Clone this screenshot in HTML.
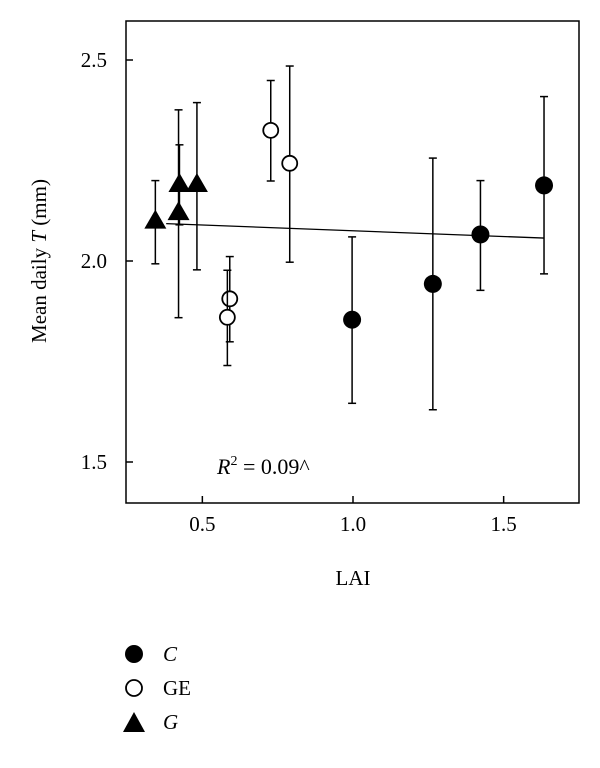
<!DOCTYPE html>
<html><head><meta charset="utf-8"><style>
body{margin:0;background:#fff;width:600px;height:763px;overflow:hidden}
svg{font-family:"Liberation Serif",serif}
</style></head><body>
<svg width="600" height="763" id="chart">
<rect x="126" y="21" width="453" height="482" fill="none" stroke="#000" stroke-width="1.5"/>
<g id="axes"></g>
<g id="marks"></g>
<text x="217" y="474" font-size="22"><tspan font-style="italic">R</tspan><tspan font-size="14" dy="-9">2</tspan><tspan dy="9"> = 0.09^</tspan></text>
<text x="353" y="585" font-size="21" text-anchor="middle">LAI</text>
<text transform="translate(46,261) rotate(-90)" font-size="21" text-anchor="middle">Mean daily <tspan font-style="italic">T</tspan> (mm)</text>
<g>
<circle cx="134" cy="654" r="9" fill="#000"/>
<text x="163" y="661" font-size="21" font-style="italic">C</text>
<circle cx="134" cy="688" r="8" fill="none" stroke="#000" stroke-width="1.8"/>
<text x="163" y="695" font-size="21">GE</text>
<polygon points="134,712 145,732 123,732" fill="#000"/>
<text x="163" y="729" font-size="21" font-style="italic">G</text>
</g>
</svg>
<script>
const xTicks=[0.5,1.0,1.5];
const yTicks=[1.5,2.0,2.5];
const tickLabels=["0.5","1.0","1.5"];
const yTickLabels=["1.5","2.0","2.5"];
const gX=[0.344,0.421,0.424,0.482];
const gY=[2.098,2.119,2.189,2.189];
const gHi=[2.2,2.376,2.289,2.394];
const gLo=[1.993,1.859,2.09,1.978];
const geX=[0.727,0.79,0.591,0.583];
const geY=[2.325,2.243,1.906,1.86];
const geHi=[2.449,2.485,2.011,1.977];
const geLo=[2.199,1.997,1.799,1.74];
const cX=[0.997,1.265,1.423,1.634];
const cY=[1.854,1.943,2.066,2.188];
const cHi=[2.06,2.256,2.2,2.409];
const cLo=[1.646,1.63,1.927,1.968];
const fitX=[0.38,1.634];
const fitY=[2.093,2.057];
const NS="http://www.w3.org/2000/svg";
const sx=v=>353+(v-1.0)*301.3;
const sy=v=>261-(v-2.0)*402;
function mk(tag,attrs,parent){const e=document.createElementNS(NS,tag);for(const k in attrs)e.setAttribute(k,attrs[k]);parent.appendChild(e);return e;}
const axes=document.getElementById('axes'),marks=document.getElementById('marks');
xTicks.forEach((t,i)=>{
 const l=mk('line',{x1:sx(t),x2:sx(t),y1:503,y2:496,stroke:'#000','stroke-width':1.5},axes);
 
 
 const tx=mk('text',{x:sx(t),y:531,'font-size':21,'text-anchor':'middle'},axes);tx.textContent=tickLabels[i];
 
 
});
yTicks.forEach((t,i)=>{
 const l=mk('line',{x1:126,x2:133,y1:sy(t),y2:sy(t),stroke:'#000','stroke-width':1.5},axes);
 
 
 const tx=mk('text',{x:107,y:sy(t)+7,'font-size':21,'text-anchor':'end'},axes);tx.textContent=yTickLabels[i];
 
 
});
const fit=mk('line',{x1:sx(fitX[0]),y1:sy(fitY[0]),x2:sx(fitX[1]),y2:sy(fitY[1]),stroke:'#000','stroke-width':1.3},marks);


function err(x,hi,lo){
 const g=mk('g',{stroke:'#000','stroke-width':1.5},marks);
 
 
 mk('line',{x1:sx(x),x2:sx(x),y1:sy(hi),y2:sy(lo)},g);
 mk('line',{x1:sx(x)-4,x2:sx(x)+4,y1:sy(hi),y2:sy(hi)},g);
 mk('line',{x1:sx(x)-4,x2:sx(x)+4,y1:sy(lo),y2:sy(lo)},g);
}
gX.forEach((x,i)=>{err(x,gHi[i],gLo[i]);
 const X=sx(x),Y=sy(gY[i]);
 const p=mk('polygon',{points:`${X},${Y-12} ${X+11},${Y+7} ${X-11},${Y+7}`,fill:'#000'},marks);
 
 
});
geX.forEach((x,i)=>{err(x,geHi[i],geLo[i]);
 const c=mk('circle',{cx:sx(x),cy:sy(geY[i]),r:7.5,fill:'#fff',stroke:'#000','stroke-width':1.8},marks);
 
 
});
cX.forEach((x,i)=>{err(x,cHi[i],cLo[i]);
 const c=mk('circle',{cx:sx(x),cy:sy(cY[i]),r:9,fill:'#000'},marks);
 
 
});
</script>
</body></html>
